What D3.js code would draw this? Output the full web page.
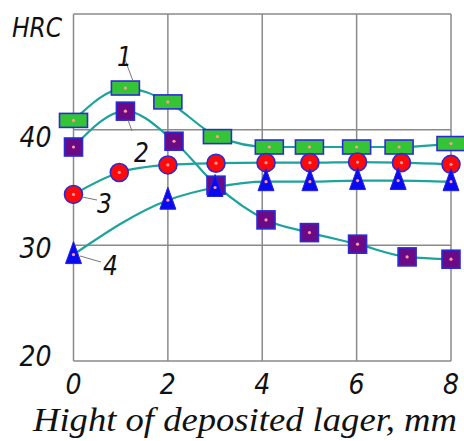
<!DOCTYPE html>
<html>
<head>
<meta charset="utf-8">
<script src="https://cdn.jsdelivr.net/npm/d3@7"></script>
<style>
  body { margin: 0; background: #fff; }
  .tick-lbl { font-family: "Liberation Sans Narrow", "DejaVu Sans Condensed", "DejaVu Sans", sans-serif; font-style: italic; fill: #111; }
  .xtitle { font-family: "Liberation Serif", "DejaVu Serif", serif; font-style: italic; fill: #111; }
</style>
</head>
<body>
<div id="chart"></div>
<script>
// data
var xTicks = [0, 2, 4, 6, 8]
var yTicks = [20, 30, 40]

var s1x = [0, 1.1, 2.0, 3.05, 4.15, 5.0, 6.0, 6.9, 8.0]
var s1y = [40.8, 43.6, 42.4, 39.4, 38.5, 38.5, 38.5, 38.5, 38.8]

var s2x = [0, 1.1, 2.13, 3.02, 4.08, 5.0, 6.02, 7.07, 8.0]
var s2y = [38.5, 41.6, 39.0, 35.2, 32.2, 31.1, 30.1, 29.0, 28.8]

var s3x = [0, 0.97, 2.0, 3.02, 4.08, 5.01, 6.02, 6.95, 8.0]
var s3y = [34.4, 36.3, 36.95, 37.1, 37.15, 37.15, 37.2, 37.15, 37.0]

var s4x = [0, 2.0, 3.0, 4.08, 5.01, 6.02, 6.88, 8.0]
var s4y = [29.2, 33.9, 35.0, 35.5, 35.5, 35.6, 35.6, 35.5]

var W = 464, H = 441
var margin = {top: 14, right: 13, bottom: 80, left: 73.5}
var width = W - margin.left - margin.right,
    height = H - margin.top - margin.bottom

var svg = d3.select("#chart").append("svg")
    .attr("width", W)
    .attr("height", H)

var g = svg.append("g")
    .attr("transform", "translate(" + margin.left + "," + margin.top + ")")

var x = d3.scaleLinear().domain([0, 8]).range([0, width])
var y = d3.scaleLinear().domain([20, 50]).range([height, 0])

var gridCol = "#8a8a8a"

// grid
g.selectAll(".vgrid").data(xTicks).enter().append("line")
    .attr("x1", d => x(d)).attr("x2", d => x(d))
    .attr("y1", 0).attr("y2", height)
    .attr("stroke", gridCol).attr("stroke-width", 1.5)
g.selectAll(".hgrid").data(yTicks.concat([50])).enter().append("line")
    .attr("x1", 0).attr("x2", width)
    .attr("y1", d => y(d)).attr("y2", d => y(d))
    .attr("stroke", gridCol).attr("stroke-width", 1.5)

// tick labels
g.selectAll(".xl").data(xTicks).enter().append("text")
    .attr("class", "tick-lbl")
    .attr("x", d => x(d))
    .attr("y", height + 33)
    .attr("text-anchor", "middle")
    .style("font-size", "28px")
    .text(d => d)
// labels in the picture sit a bit unevenly against their grid lines
var yShift = {20: 5, 30: 13, 40: 17}
g.selectAll(".yl").data(yTicks).enter().append("text")
    .attr("class", "tick-lbl")
    .attr("x", -22)
    .attr("y", d => y(d) + yShift[d])
    .attr("text-anchor", "end")
    .style("font-size", "28px")
    .text(d => d)

svg.append("text").attr("class", "tick-lbl")
    .attr("x", 12).attr("y", 37)
    .style("font-size", "26px")
    .text("HRC")

svg.append("text").attr("class", "xtitle")
    .attr("x", 33).attr("y", 431)
    .attr("textLength", 424)
    .attr("lengthAdjust", "spacingAndGlyphs")
    .style("font-size", "34px")
    .text("Hight of deposited lager, mm")

// curves
var lineCol = "#1da39c"
var series = [
  {xs: s1x, ys: s1y, kind: "rect"},
  {xs: s2x, ys: s2y, kind: "square"},
  {xs: s3x, ys: s3y, kind: "circle"},
  {xs: s4x, ys: s4y, kind: "tri"}
]
var line = d3.line().x(d => x(d[0])).y(d => y(d[1])).curve(d3.curveMonotoneX)
series.forEach(function(s) {
  var pts = s.xs.map((v, i) => [v, s.ys[i]])
  s.pts = pts
  g.append("path").datum(pts)
    .attr("d", line)
    .attr("fill", "none")
    .attr("stroke", lineCol)
    .attr("stroke-width", 2.2)
})

// label leader lines + numbers
var leaders = [
  {t: "1", lx: 117, ly: 66, x1: 124, y1: 57, x2: 133, y2: 81},
  {t: "2", lx: 134, ly: 162, x1: 128, y1: 120, x2: 132, y2: 131},
  {t: "3", lx: 97, ly: 213, x1: 82, y1: 197, x2: 97, y2: 200},
  {t: "4", lx: 103, ly: 275, x1: 80, y1: 256, x2: 101, y2: 262}
]
leaders.forEach(function(l) {
  svg.append("line")
    .attr("x1", l.x1).attr("y1", l.y1).attr("x2", l.x2).attr("y2", l.y2)
    .attr("stroke", "#777").attr("stroke-width", 1)
  svg.append("text").attr("class", "tick-lbl")
    .attr("x", l.lx).attr("y", l.ly)
    .style("font-size", "26px")
    .text(l.t)
})

// markers
var edge = "#2b2bd6"
series.forEach(function(s) {
  var mg = g.append("g")
  s.pts.forEach(function(p) {
    var cx = x(p[0]), cy = y(p[1])
    if (s.kind == "rect") {
      mg.append("rect").attr("x", cx - 14).attr("y", cy - 7).attr("width", 28).attr("height", 14)
        .attr("fill", "#35c435").attr("stroke", edge).attr("stroke-width", 1.6)
    } else if (s.kind == "square") {
      mg.append("rect").attr("x", cx - 9).attr("y", cy - 9).attr("width", 18).attr("height", 18)
        .attr("fill", "#6b0a86").attr("stroke", edge).attr("stroke-width", 1.6)
    } else if (s.kind == "circle") {
      mg.append("circle").attr("cx", cx).attr("cy", cy).attr("r", 9)
        .attr("fill", "#ff0a0a").attr("stroke", edge).attr("stroke-width", 1.6)
    } else {
      mg.append("path")
        .attr("d", "M" + cx + "," + (cy - 13) + "L" + (cx + 8) + "," + (cy + 9) + "L" + (cx - 8) + "," + (cy + 9) + "Z")
        .attr("fill", "#0a0af0").attr("stroke", "#2323e0").attr("stroke-width", 1)
    }
    mg.append("circle").attr("cx", cx).attr("cy", cy).attr("r", 1.6).attr("fill", "#ff9a9a")
  })
})
</script>
</body>
</html>
